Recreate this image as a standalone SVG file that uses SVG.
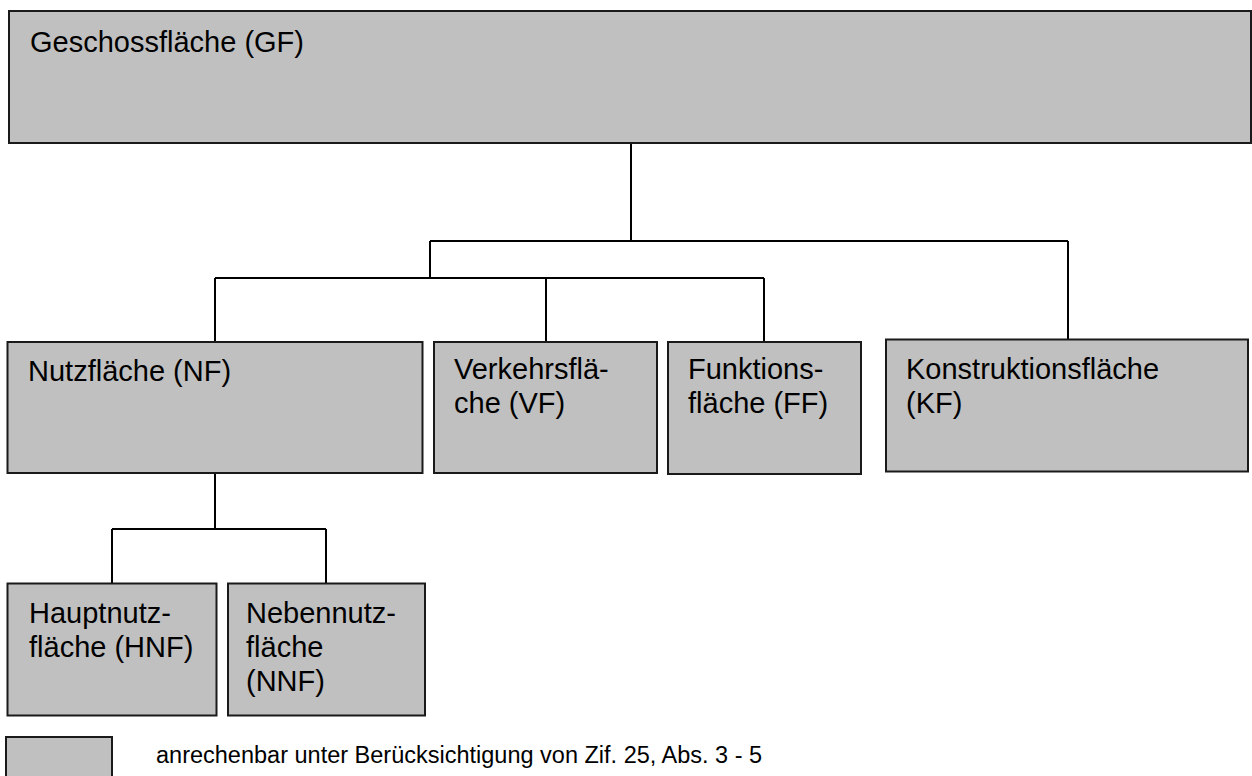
<svg xmlns="http://www.w3.org/2000/svg" width="1252" height="776" viewBox="0 0 1252 776">
<style>
.box{fill:#c0c0c0;stroke:#1a1a1a;stroke-width:2}
.lbl{font-family:"Liberation Sans",Arial,sans-serif;font-size:29px;fill:#000}
.leg{font-family:"Liberation Sans",Arial,sans-serif;font-size:23.5px;fill:#000}
.con{fill:none;stroke:#000;stroke-width:2}
</style>
<rect width="1252" height="776" fill="#fff"/>
<g id="connectors">
<path class="con" d="M631,143V241M430,241H1068M430,241V278M1068,241V339M215,278H764M215,278V342M546,278V342M764,278V342"/>
<path class="con" d="M215,473V529M112,529H326M112,529V583M326,529V583"/>
</g>
<g id="gf"><rect class="box" x="9" y="11" width="1242" height="132"/><text class="lbl" x="30" y="52">Geschossfläche (GF)</text></g>
<g id="nf"><rect class="box" x="7.5" y="342" width="415" height="131"/><text class="lbl" x="28" y="381">Nutzfläche (NF)</text></g>
<g id="vf"><rect class="box" x="434" y="342" width="223" height="131"/><text class="lbl" x="454" y="379">Verkehrsflä-</text><text class="lbl" x="454" y="413">che (VF)</text></g>
<g id="ff"><rect class="box" x="668" y="342" width="193" height="132"/><text class="lbl" x="688" y="379">Funktions-</text><text class="lbl" x="688" y="413">fläche (FF)</text></g>
<g id="kf"><rect class="box" x="886" y="339.5" width="362" height="132"/><text class="lbl" x="906" y="379">Konstruktionsfläche</text><text class="lbl" x="906" y="413">(KF)</text></g>
<g id="hnf"><rect class="box" x="7.5" y="583.5" width="209" height="132"/><text class="lbl" x="29" y="623">Hauptnutz-</text><text class="lbl" x="29" y="657">fläche (HNF)</text></g>
<g id="nnf"><rect class="box" x="228" y="583.5" width="197" height="132"/><text class="lbl" x="246" y="623">Nebennutz-</text><text class="lbl" x="246" y="657">fläche</text><text class="lbl" x="246" y="691">(NNF)</text></g>
<g id="legend"><rect class="box" x="6" y="737" width="106" height="60"/><text class="leg" x="156" y="763">anrechenbar unter Berücksichtigung von Zif. 25, Abs. 3 - 5</text></g>
</svg>
